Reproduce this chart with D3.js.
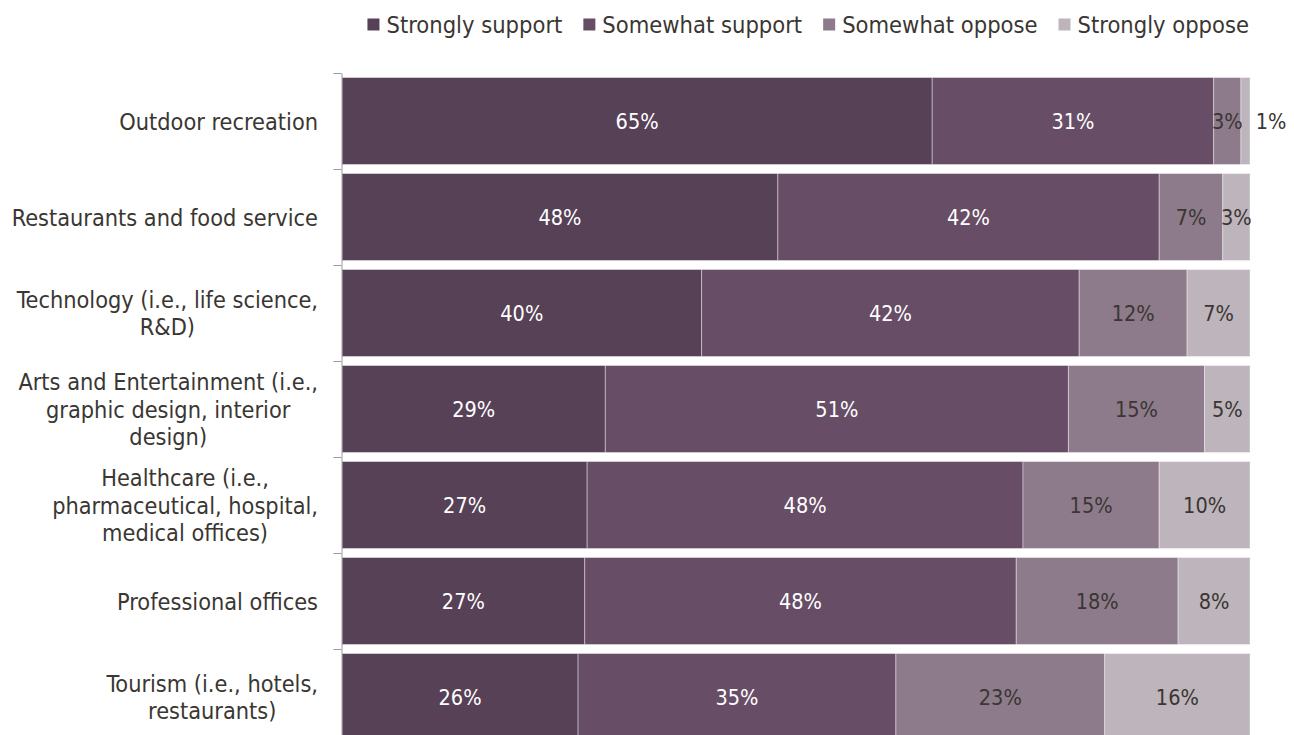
<!DOCTYPE html>
<html>
<head>
<meta charset="utf-8">
<script src="https://cdn.jsdelivr.net/npm/d3@7"></script>
<style>
  body { margin: 0; background: #fff; }
  text { font-family: "DejaVu Sans Condensed", "DejaVu Sans", sans-serif; font-stretch: condensed; }
</style>
</head>
<body>
<svg id="chart" width="1294" height="735"></svg>
<script>
// Industries (line breaks mark where each label wraps)
const categories = [
  "Outdoor recreation",
  "Restaurants and food service",
  "Technology (i.e., life science,\nR&D)",
  "Arts and Entertainment (i.e.,\ngraphic design, interior\ndesign)",
  "Healthcare (i.e.,\npharmaceutical, hospital,\nmedical offices)",
  "Professional offices",
  "Tourism (i.e., hotels,\nrestaurants)"
];

const seriesNames = ["Strongly support", "Somewhat support", "Somewhat oppose", "Strongly oppose"];

// Percent of respondents per industry
const stronglySupport = [65, 48, 40, 29, 27, 27, 26];
const somewhatSupport = [31, 42, 42, 51, 48, 48, 35];
const somewhatOppose  = [3, 7, 12, 15, 15, 18, 23];
const stronglyOppose  = [1, 3, 7, 5, 10, 8, 16];

const colors = ["#574157", "#674d66", "#8d7b8b", "#bdb4bc"];
const labelColors = ["#ffffff", "#ffffff", "#3a3632", "#3a3632"];

const rows = categories.map((c, i) => ({
  category: c,
  "Strongly support": stronglySupport[i],
  "Somewhat support": somewhatSupport[i],
  "Somewhat oppose": somewhatOppose[i],
  "Strongly oppose": stronglyOppose[i]
}));

const svg = d3.select("#chart");
const plot = { left: 342, right: 1250, top: 73, bottom: 745 };

const x = d3.scaleLinear().domain([0, 1]).range([plot.left, plot.right]);
const y = d3.scaleBand()
  .domain(categories)
  .range([plot.top, plot.bottom])
  .paddingInner(0.094)
  .paddingOuter(0.047);

// Each row is shown as shares of its own total
const stacked = d3.stack()
  .keys(seriesNames)
  .offset(d3.stackOffsetExpand)(rows);

const layers = svg.append("g")
  .selectAll("g")
  .data(stacked)
  .join("g")
  .attr("fill", (d, i) => colors[i]);

layers.selectAll("rect")
  .data(d => d.map(v => ({ v, key: d.key })))
  .join("rect")
  .attr("x", d => x(d.v[0]))
  .attr("y", d => y(d.v.data.category))
  .attr("width", d => x(d.v[1]) - x(d.v[0]))
  .attr("height", y.bandwidth())
  .attr("stroke", "rgba(255,255,255,0.4)")
  .attr("stroke-width", 1);

// Value labels, nudged right when a narrow segment would make them collide
const labelLayer = svg.append("g").attr("font-size", "21.5px");
categories.forEach((cat, ci) => {
  let prevRight = -Infinity;
  stacked.forEach((layer, si) => {
    const seg = layer[ci];
    const value = rows[ci][layer.key];
    const t = labelLayer.append("text")
      .attr("text-anchor", "middle")
      .attr("dominant-baseline", "central")
      .attr("y", y(cat) + y.bandwidth() / 2)
      .attr("fill", labelColors[si])
      .text(value + "%");
    const w = t.node().getComputedTextLength();
    let cx = (x(seg[0]) + x(seg[1])) / 2;
    if (cx - w / 2 < prevRight + 13) cx = prevRight + 13 + w / 2;
    if (cx + w / 2 > plot.right) t.attr("fill", "#3a3632");
    t.attr("x", cx);
    prevRight = cx + w / 2;
  });
});

// Category axis: line with tick marks on band boundaries
const boundary = d3.scaleLinear().domain([0, categories.length]).range([plot.top, plot.bottom]);
const axisG = svg.append("g")
  .attr("transform", `translate(${plot.left - 0.5},0)`)
  .call(d3.axisLeft(boundary)
    .tickValues(d3.range(categories.length + 1))
    .tickFormat("")
    .tickSize(8)
    .tickSizeOuter(0));
axisG.select(".domain").attr("stroke", "#9a9a9a");
axisG.selectAll(".tick line").attr("stroke", "#9a9a9a");

// Category labels, centred line-by-line and right-aligned as a block
const catLayer = svg.append("g").attr("font-size", "23.3px").attr("fill", "#3a3632");
const lineH = 27.5;
categories.forEach(cat => {
  const lines = cat.split("\n");
  const g = catLayer.append("g");
  const texts = lines.map((ln, li) => g.append("text")
    .attr("text-anchor", "middle")
    .attr("dominant-baseline", "central")
    .attr("y", y(cat) + y.bandwidth() / 2 + (li - (lines.length - 1) / 2) * lineH)
    .text(ln));
  const maxW = d3.max(texts, t => t.node().getComputedTextLength());
  texts.forEach(t => t.attr("x", 318 - maxW / 2));
});

// Legend
const legend = svg.append("g").attr("font-size", "23.5px").attr("fill", "#3a3632");
const legendGap = 21;
let lx = 0;
seriesNames.forEach((name, i) => {
  const g = legend.append("g").attr("transform", `translate(${lx},0)`);
  g.append("rect").attr("x", 0).attr("y", 18.5).attr("width", 12).attr("height", 12).attr("fill", colors[i]);
  const t = g.append("text").attr("x", 19).attr("y", 24.5).attr("dominant-baseline", "central").text(name);
  lx += 19 + t.node().getComputedTextLength() + legendGap;
});
const legendWidth = lx - legendGap;
legend.attr("transform", `translate(${1249 - legendWidth},0)`);
</script>
</body>
</html>
